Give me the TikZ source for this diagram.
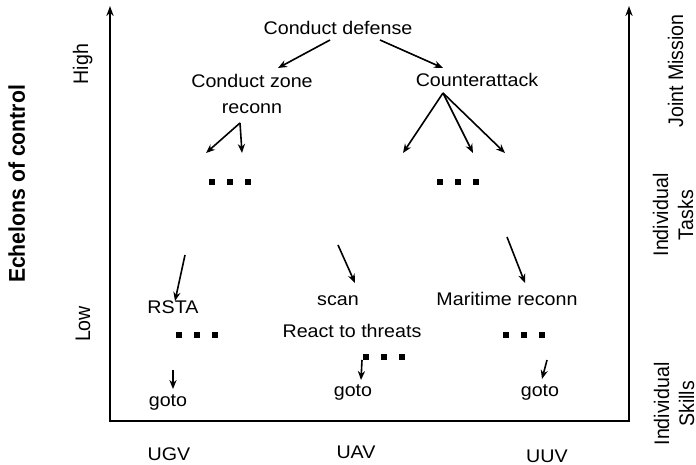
\documentclass[tikz,border=0pt]{standalone}
\usepackage{fontspec}
\setmainfont{Liberation Sans}
\usetikzlibrary{arrows.meta}

\newcommand{\lblfont}{\fontsize{9.15}{13}\selectfont}
\newcommand{\sidefont}{\fontsize{9.8}{13}\selectfont}
\newcommand{\echfont}{\fontsize{10.6}{13}\selectfont\bfseries}

\tikzset{
    lbl/.style={font=\lblfont, inner sep=0pt, xscale=1.075},
    vlbl/.style={lbl, font=\sidefont, rotate=90, align=center},
    arr/.style={line width=0.8pt, -{Stealth[length=4.5pt,width=3.6pt]}},
    axis/.style={line width=1.2pt, {Stealth[length=5pt,width=3.6pt]}-{Stealth[length=5pt,width=3.6pt]}},
    sq/.style={fill=black, minimum size=2.8pt, inner sep=0pt}
}
\newcommand{\sqdots}[3]{\foreach \k in {0,1,2} \node[sq] (#1\k) at (#2+18*\k, #3) {};}

\begin{document}
\begin{tikzpicture}[x=0.5pt, y=-0.5pt]
    \useasboundingbox (0,0) rectangle (696,465);

    \coordinate (ltop) at (110,6);
    \coordinate (lbot) at (110,421);
    \coordinate (rbot) at (629,421);
    \coordinate (rtop) at (629,6);
    \draw[axis] (ltop) -- (lbot) -- (rbot) -- (rtop);

    \node[vlbl, font=\echfont, anchor=base] (ech) at (25,184) {Echelons of control};
    \node[vlbl, anchor=base] (high) at (88,64) {High};
    \node[vlbl, anchor=base] (low) at (90,324) {Low};
    \node[vlbl, anchor=base] (joint) at (683,71) {Joint Mission};
    \node[vlbl] (tasks) at (673,215) {Individual\\[-1.4pt]Tasks};
    \node[vlbl] (skills) at (674,404) {Individual\\[-1.4pt]Skills};

    \node[lbl, anchor=base] (def) at (338,35) {Conduct defense};
    \node[lbl, anchor=base, align=center] (zone) at (252,113) {Conduct zone\\reconn};
    \node[lbl, anchor=base] (att) at (477,87) {Counterattack};

    \coordinate (defL) at (330,40);
    \coordinate (defR) at (380,40);
    \coordinate (zoneTip) at (278,68);
    \coordinate (attTip) at (443,68);
    \draw[arr] (defL) -- (zoneTip);
    \draw[arr] (defR) -- (attTip);

    \coordinate (zoneFork) at (240,123);
    \coordinate (attFork) at (443,93);
    \foreach \x in {206,242} \draw[arr] (zoneFork) -- (\x,153);
    \foreach \x in {403,473,505} \draw[arr] (attFork) -- (\x,153);

    \sqdots{dz}{212}{182}
    \sqdots{da}{440}{182}

    \node[lbl, anchor=base] (rsta) at (173,313) {RSTA};
    \node[lbl, anchor=base] (scan) at (338,305) {scan};
    \node[lbl, anchor=base] (react) at (352,337) {React to threats};
    \node[lbl, anchor=base] (mar) at (507,305) {Maritime reconn};

    \coordinate (rstaIn) at (185,255);
    \coordinate (rstaTip) at (175,301);
    \coordinate (scanIn) at (338,245);
    \coordinate (scanTip) at (355,283);
    \coordinate (marIn) at (507,237);
    \coordinate (marTip) at (525,283);
    \draw[arr] (rstaIn) -- (rstaTip);
    \draw[arr] (scanIn) -- (scanTip);
    \draw[arr] (marIn) -- (marTip);

    \sqdots{dr}{179}{335}
    \sqdots{dt}{366}{357}
    \sqdots{dm}{506}{335}

    \node[lbl, anchor=base] (gotoG) at (168,406) {goto};
    \node[lbl, anchor=base] (gotoA) at (353,396) {goto};
    \node[lbl, anchor=base] (gotoU) at (540,396) {goto};

    \coordinate (gotoGIn) at (173,370);
    \coordinate (gotoGTip) at (173,389);
    \coordinate (gotoAIn) at (362,360);
    \coordinate (gotoATip) at (361,380);
    \coordinate (gotoUIn) at (547,360);
    \coordinate (gotoUTip) at (542,379);
    \draw[arr] (gotoGIn) -- (gotoGTip);
    \draw[arr] (gotoAIn) -- (gotoATip);
    \draw[arr] (gotoUIn) -- (gotoUTip);

    \node[lbl, anchor=base] (ugv) at (169,460) {UGV};
    \node[lbl, anchor=base] (uav) at (356,458) {UAV};
    \node[lbl, anchor=base] (uuv) at (547,462) {UUV};
\end{tikzpicture}
\end{document}
